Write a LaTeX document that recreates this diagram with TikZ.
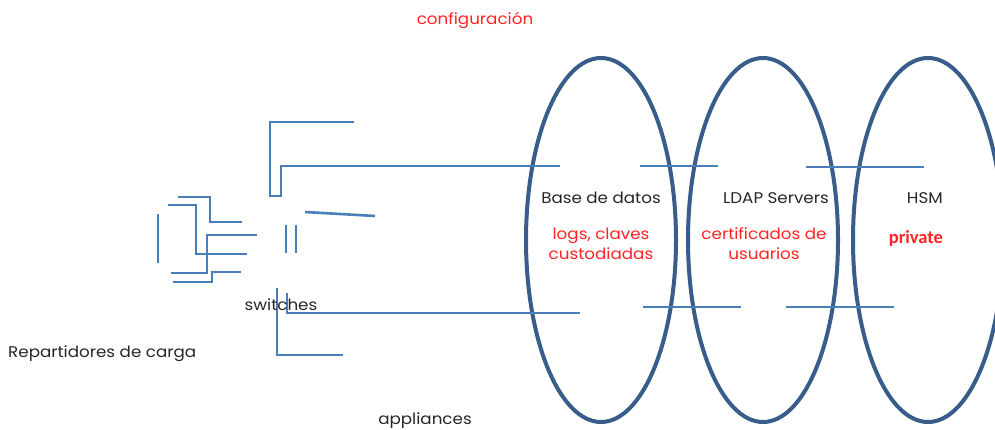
\documentclass[tikz,border=0pt]{standalone}
\usepackage{fontspec}
\setmainfont[FakeStretch=1.08]{Poppins}
\newfontfamily\privfont{Carlito}
\usetikzlibrary{shapes.geometric}
\definecolor{ringblue}{RGB}{56,93,138}
\definecolor{wireblue}{RGB}{74,126,187}
\definecolor{txtgray}{RGB}{38,38,38}
\definecolor{notered}{RGB}{255,35,35}

\begin{document}
\begin{tikzpicture}[x=1pt, y=-1pt,
  every node/.style={font=\fontsize{15.5}{20}\selectfont, text=txtgray, inner sep=0pt},
  ring/.style={ellipse, draw=ringblue, line width=4pt, minimum width=150pt, minimum height=364pt},
  wire/.style={draw=wireblue, line width=2.6pt},
  note/.style={text=notered, align=center}]
  \clip (0,0) rectangle (995,430);
  \node[ring] (db) at (601,240) {};
  \node[ring] (ldap) at (763,240) {};
  \node[ring] (hsm) at (928,240) {};
  \draw[wire] (354,122) -- (270,122) -- (270,196) -- (281,196) -- (281,166) -- (560,166);
  \draw[wire] (640,166) -- (718,166);
  \draw[wire] (806,167) -- (924,167);
  \draw[wire] (277,288) -- (277,355) -- (343,355);
  \draw[wire] (287,293) -- (287,313) -- (580,313);
  \draw[wire] (643,307) -- (741,307);
  \draw[wire] (786,307) -- (894,307);
  \draw[wire] (158,214) -- (158,263);
  \draw[wire] (178,197) -- (210,197) -- (210,222) -- (242,222);
  \draw[wire] (168,205) -- (196,205) -- (196,254) -- (247,254);
  \draw[wire] (257,235) -- (207,235) -- (207,273) -- (171,273);
  \draw[wire] (173,282) -- (212,282) -- (212,272) -- (241,272);
  \draw[wire] (286,225) -- (286,253);
  \draw[wire] (296,225) -- (296,253);
  \draw[wire] (305,212) -- (375,216);
  \node[note] (conf) at (475,20) {configuración};
  \node (dbname) at (601,198) {Base de datos};
  \node[note] (dbnote) at (601,244) {logs, claves\\custodiadas};
  \node (ldapname) at (776,198) {LDAP Servers};
  \node[note] (ldapnote) at (764,244) {certificados de\\usuarios};
  \node[anchor=east] (hsmname) at (943,198) {HSM};
  \node[anchor=east, text=notered, font=\privfont\bfseries\fontsize{18.5}{20}\selectfont] (hsmnote) at (943,238) {private};
  \node (sw) at (281,305) {switches};
  \node[anchor=west] (lb) at (8,354) {Repartidores de carga};
  \node (app) at (425,421) {appliances};
\end{tikzpicture}
\end{document}
